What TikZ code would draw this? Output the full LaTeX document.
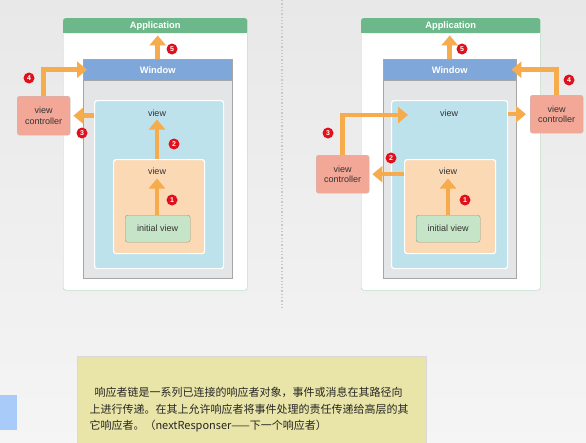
\documentclass[tikz,border=0pt]{standalone}
\usepackage{fontspec}
\setmainfont{Liberation Sans}
\newfontfamily\cjk{Noto Sans CJK SC}
\usetikzlibrary{arrows.meta}

\definecolor{appgreen}{HTML}{6DB88A}
\definecolor{appline}{HTML}{9DD4B0}
\definecolor{winblue}{HTML}{80A7D9}
\definecolor{wingray}{HTML}{E4E5E6}
\definecolor{viewblue}{HTML}{BEE2EC}
\definecolor{vieworange}{HTML}{FBD9B5}
\definecolor{initgreen}{HTML}{C6E4C7}
\definecolor{ctrlred}{HTML}{F2A797}
\definecolor{flow}{HTML}{F6AB4C}
\definecolor{badgered}{HTML}{E2101B}
\definecolor{notebg}{HTML}{E9E5A9}
\definecolor{sidebar}{HTML}{A9CBF9}

\tikzset{
  panel/.style={anchor=north west, inner sep=0pt, rounded corners=2.5pt},
  hdr/.style={panel, text=white, font=\bfseries\fontsize{9.3}{10}\selectfont},
  lbl/.style={font=\fontsize{9}{10.5}\selectfont, text=black!80, inner sep=1pt},
  ctrl/.style={panel, fill=ctrlred, draw=black!25, align=center,
    font=\fontsize{9}{10.5}\selectfont, text=black!80},
  flowarrow/.style={draw=flow, line width=4.5pt,
    -{Triangle[width=16pt,length=10pt]}},
  badge/.style={circle, fill=badgered, text=white, inner sep=0pt,
    minimum size=11pt, font=\bfseries\fontsize{7}{7}\selectfont},
}

\begin{document}
\begin{tikzpicture}[x=1pt, y=-1pt]
  % page and background
  \useasboundingbox (0,0) rectangle (586,442);
  \shade[top color=black!9, bottom color=black!4] (0,0) rectangle (586,442);
  \draw[black!22, line width=1.3pt, dash pattern=on 1.3pt off 2pt] (282,0) -- (282,310);

  % left: view controller at the top of the view tree
  \node[panel, draw=appline, fill=white, minimum width=184pt, minimum height=272pt] (appL) at (63,18) {};
  \fill[appgreen] (63,27) rectangle (247,33);
  \node[hdr, fill=appgreen, minimum width=184pt, minimum height=15pt] (appLh) at (63,18) {Application};
  \node[panel, rounded corners=0pt, draw=black!35, fill=wingray, minimum width=149pt, minimum height=219pt] (winL) at (83,59) {};
  \node[hdr, rounded corners=0pt, draw=black!35, fill=winblue, minimum width=149pt, minimum height=21pt] (winLh) at (83,59) {Window};
  \node[panel, draw=white, line width=1.2pt, fill=viewblue, minimum width=129pt, minimum height=168pt] (viewL) at (94,100) {};
  \node[lbl] (tviewL) at (157,113) {view};
  \node[panel, draw=white, line width=1.2pt, fill=vieworange, minimum width=91pt, minimum height=94pt] (vorL) at (113,159) {};
  \node[lbl] (tvorL) at (157,171) {view};
  \node[panel, draw=initgreen!70!black, fill=initgreen, minimum width=65pt, minimum height=27pt, lbl, inner sep=0pt] (initL) at (125,215) {initial view};
  \node[ctrl, minimum width=53pt, minimum height=39pt] (ctrlL) at (17,96) {view\\controller};

  \draw[flowarrow] (tvorL.south |- initL.north) -- ([yshift=-3pt]tvorL.south);
  \draw[flowarrow] (tviewL.south |- vorL.north) -- ([yshift=-2pt]tviewL.south);
  \draw[flowarrow] (viewL.west |- ctrlL.east) -- ([xshift=3pt]ctrlL.east);
  \draw[flowarrow] (ctrlL.north) |- ([xshift=4pt]winLh.west);
  \draw[flowarrow] (winLh.north) -- ([yshift=-2pt]winLh.north |- appLh.south);

  \node[badge] (b1L) at (172,200) {1};
  \node[badge] (b2L) at (174,144) {2};
  \node[badge] (b3L) at (82,133) {3};
  \node[badge] (b4L) at (29,78) {4};
  \node[badge] (b5L) at (172,49) {5};

  % right: view controllers inside the view tree
  \node[panel, draw=appline, fill=white, minimum width=179pt, minimum height=272pt] (appR) at (361,18) {};
  \fill[appgreen] (361,27) rectangle (540,33);
  \node[hdr, fill=appgreen, minimum width=179pt, minimum height=15pt] (appRh) at (361,18) {Application};
  \node[panel, rounded corners=0pt, draw=black!35, fill=wingray, minimum width=133pt, minimum height=219pt] (winR) at (383,59) {};
  \node[hdr, rounded corners=0pt, draw=black!35, fill=winblue, minimum width=133pt, minimum height=21pt] (winRh) at (383,59) {Window};
  \node[panel, draw=white, line width=1.2pt, fill=viewblue, minimum width=116pt, minimum height=168pt] (viewR) at (391,100) {};
  \node[lbl] (tviewR) at (449,113) {view};
  \node[panel, draw=white, line width=1.2pt, fill=vieworange, minimum width=91pt, minimum height=94pt] (vorR) at (404,159) {};
  \node[lbl] (tvorR) at (448,171) {view};
  \node[panel, draw=initgreen!70!black, fill=initgreen, minimum width=64pt, minimum height=27pt, lbl, inner sep=0pt] (initR) at (416,215) {initial view};
  \node[ctrl, minimum width=53pt, minimum height=38pt] (ctrlRa) at (316,155) {view\\controller};
  \node[ctrl, minimum width=53pt, minimum height=38pt] (ctrlRb) at (530,95) {view\\controller};

  \draw[flowarrow] (tvorR.south |- initR.north) -- ([yshift=-3pt]tvorR.south);
  \draw[flowarrow] (vorR.west |- ctrlRa.east) -- ([xshift=3pt]ctrlRa.east);
  \draw[flowarrow] (ctrlRa.north) |- ([xshift=17pt,yshift=-15pt]viewR.north west);
  \draw[flowarrow] (viewR.east |- ctrlRb.west) -- ([xshift=-4pt]ctrlRb.west);
  \draw[flowarrow] (ctrlRb.north) |- ([xshift=-5pt]winRh.east);
  \draw[flowarrow] (winRh.north) -- ([yshift=-2pt]winRh.north |- appRh.south);

  \node[badge] (b1R) at (465,200) {1};
  \node[badge] (b2R) at (391,158) {2};
  \node[badge] (b3R) at (328,133) {3};
  \node[badge] (b4R) at (569,80) {4};
  \node[badge] (b5R) at (462,49) {5};

  % note
  \fill[sidebar] (0,395) rectangle (17,430);
  \node[panel, rounded corners=0pt, draw=black!15, fill=notebg, minimum width=349pt, minimum height=90pt] (note) at (77,356) {};
  \node[anchor=west, align=left, text=black!85, font=\cjk\fontsize{11}{16.5}\selectfont] (noteText) at (86,410)
    {\hspace{5pt}响应者链是一系列已连接的响应者对象，事件或消息在其路径向\\
     上进行传递。在其上允许响应者将事件处理的责任传递给高层的其\\
     它响应者。（nextResponser——下一个响应者）};
\end{tikzpicture}
\end{document}
